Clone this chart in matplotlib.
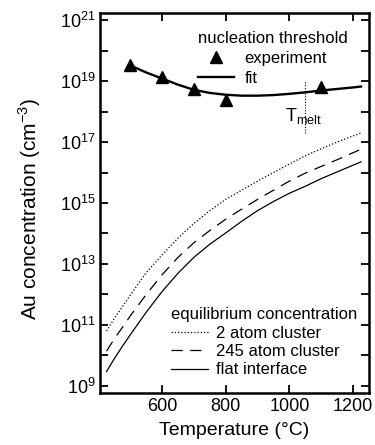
import numpy as np
import matplotlib
matplotlib.use('Agg')
import matplotlib.pyplot as plt
from matplotlib.ticker import FixedLocator, NullLocator, NullFormatter

plt.rcParams['font.family'] = ['Liberation Sans', 'DejaVu Sans']
plt.rcParams['mathtext.fontset'] = 'custom'
plt.rcParams['mathtext.rm'] = 'Liberation Sans'

# nucleation threshold (experiment + fit), log10 of cm^-3
exp_T = [500, 600, 700, 800, 1100]
exp_log = [19.52, 19.14, 18.73, 18.38, 18.79]
fit_T = [500, 550, 600, 650, 700, 750, 800, 850, 900, 950, 1000, 1050, 1100, 1150, 1200, 1225]
fit_log = [19.51, 19.28, 19.08, 18.88, 18.71, 18.61, 18.55, 18.52, 18.52, 18.54, 18.58,
           18.63, 18.69, 18.74, 18.79, 18.82]

# equilibrium concentrations, log10 of cm^-3
eq_T = [425, 450, 475, 500, 550, 600, 650, 700, 750, 800, 850, 900, 950, 1000,
        1050, 1100, 1150, 1200, 1225]
two_atom = [10.8, 11.22, 11.6, 11.98, 12.72, 13.3, 13.85, 14.33, 14.75, 15.12, 15.42,
            15.72, 16.0, 16.28, 16.55, 16.78, 17.0, 17.2, 17.3]
atom245 = [10.14, 10.55, 10.92, 11.3, 12.0, 12.65, 13.22, 13.7, 14.1, 14.47, 14.8,
           15.12, 15.42, 15.72, 15.98, 16.2, 16.42, 16.65, 16.76]
flat = [9.47, 9.9, 10.3, 10.68, 11.42, 12.1, 12.7, 13.22, 13.65, 14.02, 14.4,
        14.75, 15.05, 15.32, 15.55, 15.8, 16.02, 16.24, 16.35]

T_melt = 1050

fig = plt.figure(figsize=(3.75, 4.45), dpi=100)
ax = fig.add_axes([0.267, 0.117, 0.717, 0.853])

p1, = ax.plot(exp_T, 10**np.array(exp_log), 'k^', markersize=8, label='experiment')
p2, = ax.plot(fit_T, 10**np.array(fit_log), 'k-', lw=1.7, label='fit')
q1, = ax.plot(eq_T, 10**np.array(two_atom), 'k:', lw=0.9, dashes=(1, 1.6), label='2 atom cluster')
q2, = ax.plot(eq_T, 10**np.array(atom245), 'k--', lw=0.9, dashes=(9, 6), label='245 atom cluster')
q3, = ax.plot(eq_T, 10**np.array(flat), 'k-', lw=0.9, label='flat interface')

ax.plot([T_melt, T_melt], [10**17.3, 10**19.0], 'k:', lw=0.8, dashes=(1, 1.5))
ax.text(T_melt - 6, 10**17.85, r'T$_{\mathregular{melt}}$', fontsize=13, ha='center', va='center')

ax.set_yscale('log')
ax.set_xlim(405, 1250)
ax.set_ylim(10**8.77, 10**21.22)
ax.xaxis.set_major_locator(FixedLocator([600, 800, 1000, 1200]))
ax.yaxis.set_major_locator(FixedLocator([10.0**k for k in range(9, 22, 2)]))
ax.yaxis.set_minor_locator(FixedLocator([10.0**k for k in range(10, 21, 2)]))
ax.yaxis.set_minor_formatter(NullFormatter())
ax.set_yticklabels([r'$\mathregular{10^{%d}}$' % k for k in range(9, 22, 2)])
ax.xaxis.set_minor_locator(NullLocator())
ax.tick_params(which='both', direction='in', top=True, right=True, length=6, width=1.3,
               labelsize=13)
for s in ax.spines.values():
    s.set_linewidth(1.8)

ax.set_xlabel('Temperature (°C)', fontsize=14, labelpad=5)
ax.set_ylabel(r'Au concentration (cm$^{\mathregular{-3}}$)', fontsize=15, labelpad=12)
ax.yaxis.label.set_y(0.485)

leg1 = ax.legend(handles=[p1, p2], title='nucleation threshold', loc='upper right',
                 bbox_to_anchor=(0.963, 0.985), frameon=False, fontsize=12, title_fontsize=12,
                 handlelength=2.2, handletextpad=0.6, borderpad=0.2, labelspacing=0.3,
                 alignment='left')
ax.add_artist(leg1)
leg2 = ax.legend(handles=[q1, q2, q3], title='equilibrium concentration', loc='lower right',
                 bbox_to_anchor=(1.0, 0.01), frameon=False, fontsize=12, title_fontsize=12,
                 handlelength=2.2, handletextpad=0.5, borderpad=0.2, labelspacing=0.2,
                 alignment='left')

fig.savefig('out.png', dpi=100)
